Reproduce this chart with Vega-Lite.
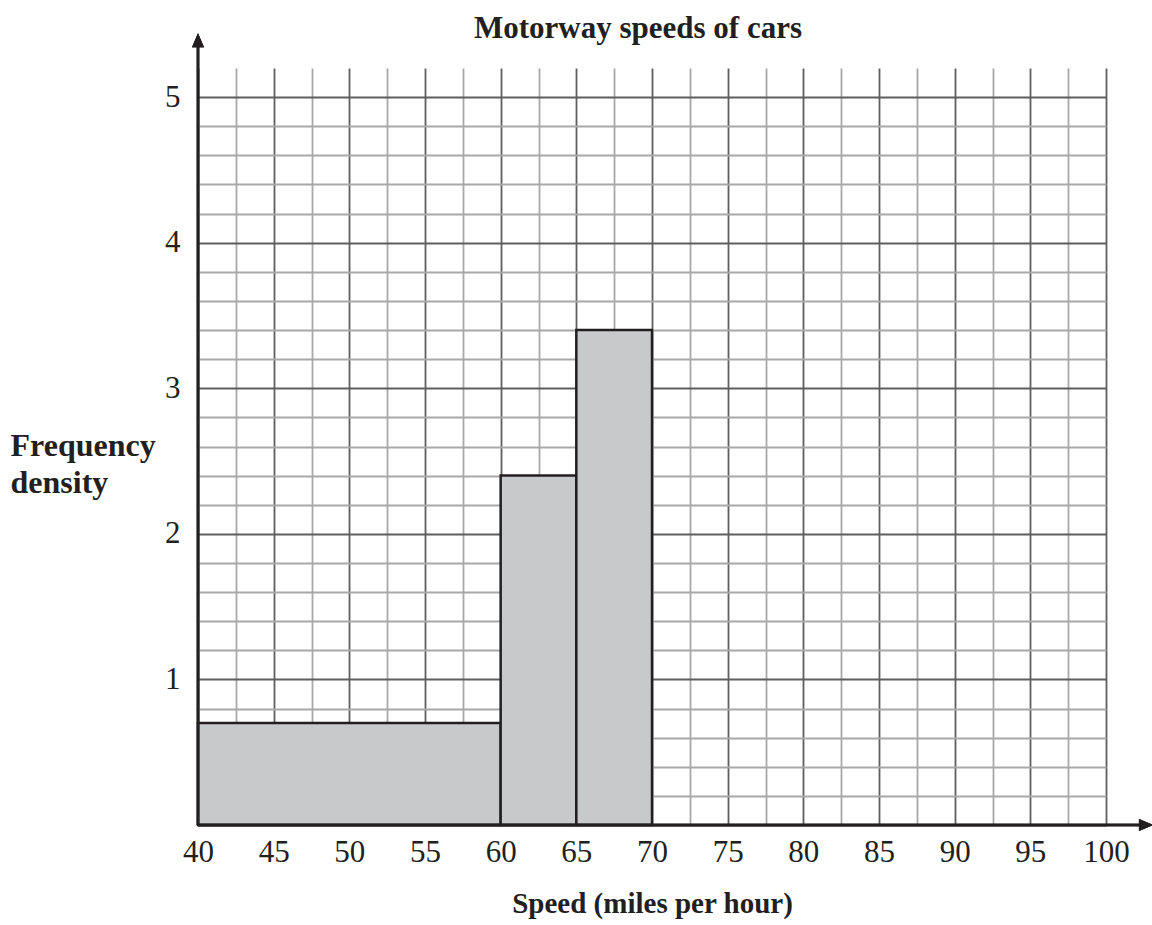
{
  "$schema": "https://vega.github.io/schema/vega-lite/v6.json",
  "width": 908,
  "height": 757,
  "autosize": {"type": "none"},
  "padding": {"left": 198, "top": 68, "right": 46, "bottom": 100},
  "background": "white",
  "config": {"view": {"stroke": null}, "font": "Liberation Serif"},
  "title": {
    "text": "Motorway speeds of cars",
    "font": "Liberation Serif",
    "fontSize": 31,
    "fontWeight": "bold",
    "color": "#231f20",
    "anchor": "middle",
    "frame": "group",
    "baseline": "alphabetic",
    "offset": -36,
    "dx": -14
  },
  "data": {
    "values": [
      {"start": 40, "end": 60, "density": 0.7},
      {"start": 60, "end": 65, "density": 2.4},
      {"start": 65, "end": 70, "density": 3.4}
    ]
  },
  "layer": [
    {
      "mark": {"type": "rect", "fill": "#c8c9cb", "stroke": "#231f20", "strokeWidth": 2.5},
      "encoding": {
        "x": {
          "field": "start",
          "type": "quantitative",
          "scale": {"domain": [40, 100], "nice": false, "zero": false},
          "axis": {
            "values": [40, 42.5, 45, 47.5, 50, 52.5, 55, 57.5, 60, 62.5, 65, 67.5, 70, 72.5, 75, 77.5, 80, 82.5, 85, 87.5, 90, 92.5, 95, 97.5, 100],
            "tickCount": 100,
            "domain": false,
            "ticks": false,
            "tickSize": 0,
            "labelPadding": 12,
            "labelFlush": false,
            "labelFont": "Liberation Serif",
            "labelFontSize": 31,
            "labelColor": "#231f20",
            "labelBaseline": "top",
            "labelOverlap": false,
            "labelExpr": "datum.value % 5 === 0 ? format(datum.value, 'd') : ''",
            "grid": true,
            "gridColor": {"condition": {"test": "datum.value % 5 === 0", "value": "#5e5e5e"}, "value": "#a8a8a8"},
            "gridWidth": 1.8,
            "title": "Speed (miles per hour)",
            "titleFont": "Liberation Serif",
            "titleFontSize": 29,
            "titleFontWeight": "bold",
            "titleColor": "#231f20",
            "titleBaseline": "alphabetic",
            "titleY": 87
          }
        },
        "x2": {"field": "end"},
        "y": {
          "field": "density",
          "type": "quantitative",
          "scale": {"domain": [0, 5.2], "nice": false},
          "axis": {
            "values": [0, 0.2, 0.4, 0.6, 0.8, 1, 1.2, 1.4, 1.6, 1.8, 2, 2.2, 2.4, 2.6, 2.8, 3, 3.2, 3.4, 3.6, 3.8, 4, 4.2, 4.4, 4.6, 4.8, 5],
            "tickCount": 100,
            "domain": false,
            "ticks": false,
            "tickSize": 0,
            "labelPadding": 18,
            "labelFlush": false,
            "labelFont": "Liberation Serif",
            "labelFontSize": 31,
            "labelColor": "#231f20",
            "labelBaseline": "middle",
            "labelOverlap": false,
            "labelExpr": "datum.value > 0 && abs(datum.value - round(datum.value)) < 0.001 ? format(datum.value, 'd') : ''",
            "grid": true,
            "gridColor": {"condition": {"test": "abs(datum.value - round(datum.value)) < 0.001", "value": "#5e5e5e"}, "value": "#a8a8a8"},
            "gridWidth": 1.8,
            "title": ["Frequency", "density"],
            "titleFont": "Liberation Serif",
            "titleFontSize": 32,
            "titleFontWeight": "bold",
            "titleColor": "#231f20",
            "titleAngle": 0,
            "titleAlign": "left",
            "titleBaseline": "alphabetic",
            "titleLineHeight": 37,
            "titleX": -188,
            "titleY": 387
          }
        },
        "y2": {"datum": 0}
      }
    },
    {
      "mark": {"type": "rule", "color": "#231f20", "strokeWidth": 2.5},
      "encoding": {
        "x": {"datum": 40, "type": "quantitative"},
        "x2": {"datum": 102.6},
        "y": {"datum": 0, "type": "quantitative"}
      }
    },
    {
      "mark": {"type": "rule", "color": "#231f20", "strokeWidth": 2.5},
      "encoding": {
        "x": {"datum": 40, "type": "quantitative"},
        "y": {"datum": 0, "type": "quantitative"},
        "y2": {"datum": 5.39}
      }
    },
    {
      "mark": {"type": "point", "shape": "M-0.85,1L0,-1L0.85,1Z", "size": 196, "filled": true, "color": "#231f20", "opacity": 1, "strokeWidth": 0},
      "encoding": {
        "x": {"datum": 40, "type": "quantitative"},
        "y": {"datum": 5.39, "type": "quantitative"}
      }
    },
    {
      "mark": {"type": "point", "shape": "M-1,-0.85L1,0L-1,0.85Z", "size": 196, "filled": true, "color": "#231f20", "opacity": 1, "strokeWidth": 0},
      "encoding": {
        "x": {"datum": 102.64, "type": "quantitative"},
        "y": {"datum": 0, "type": "quantitative"}
      }
    }
  ]
}
